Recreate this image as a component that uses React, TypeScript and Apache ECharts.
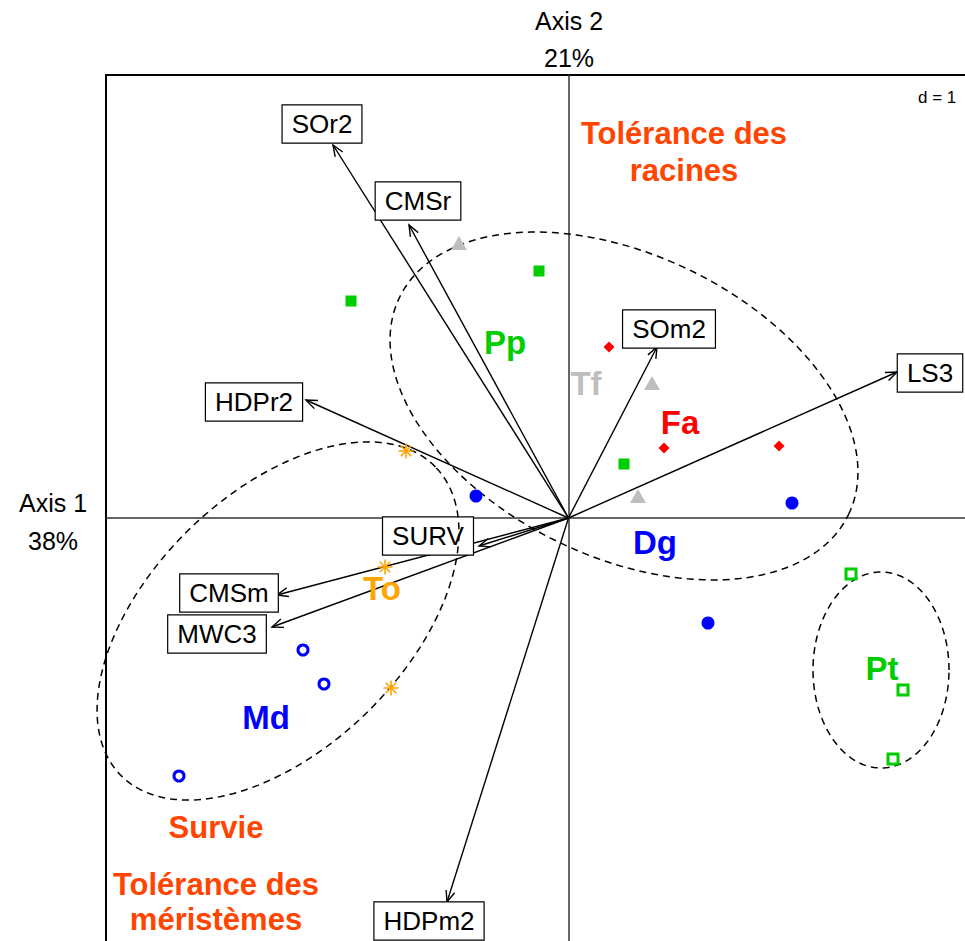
import React, { useEffect, useRef } from "react";
import * as echarts from "echarts";

// ---- data (axis units: principal-component scores) ----
const ppPoints = [[-2.175, 2.17], [-0.295, 2.47], [0.555, 0.54]];
const tfPoints = [[-1.095, 2.75], [0.835, 1.35], [0.695, 0.22]];
const faPoints = [[0.405, 1.71], [0.955, 0.7], [2.105, 0.72]];
const dgPoints = [[-0.925, 0.22], [2.235, 0.15], [1.395, -1.05]];
const toPoints = [[-1.625, 0.67], [-1.835, -0.49], [-1.775, -1.7]];
const mdPoints = [[-2.655, -1.32], [-2.445, -1.66], [-3.895, -2.58]];
const ptPoints = [[2.825, -0.56], [3.345, -1.72], [3.245, -2.41]];

const classNames = ["Pp", "Tf", "Fa", "Dg", "To", "Md", "Pt"];
const classLabelX = [-0.635, 0.175, 1.115, 0.865, -1.865, -3.025, 3.135];
const classLabelY = [1.76, 1.35, 0.96, -0.24, -0.7, -1.99, -1.5];
const classColors = ["#00cd00", "#bebebe", "#ff0000", "#0000ff", "#ffa500", "#0000ff", "#00cd00"];

const varNames = ["SOr2", "CMSr", "SOm2", "LS3", "HDPr2", "SURV", "CMSm", "MWC3", "HDPm2"];
const varTipX = [-2.355, -1.595, 0.885, 3.285, -2.625, -0.895, -2.915, -2.965, -1.215];
const varTipY = [3.73, 2.93, 1.71, 1.46, 1.18, -0.28, -0.77, -1.09, -3.84];
const varLabelX = [-2.465, -1.505, 1.005, 3.615, -3.145, -1.405, -3.395, -3.515, -1.395];
const varLabelY = [3.94, 3.17, 1.89, 1.45, 1.16, -0.18, -0.75, -1.16, -4.03];

// ellipses: centre x, centre y, semi-axis 1, semi-axis 2, rotation (deg)
const ellipseCX = [0.555, -2.905, 3.125];
const ellipseCY = [1.12, -1.03, -1.52];
const ellipseA = [2.494, 2.203, 0.68];
const ellipseB = [1.51, 1.276, 0.98];
const ellipseAngle = [-25.8, 44.4, 0];

const axisXMin = -4.625;
const axisXMax = 5.375;
const axisYMin = -5.57;
const axisYMax = 4.43;

const FONT = "'Liberation Sans', Arial, sans-serif";

export default function App() {
  const ref = useRef<HTMLDivElement>(null);

  useEffect(() => {
    if (!ref.current) return;
    const chart = echarts.init(ref.current, undefined, { renderer: "svg" });

    const arrowData = varTipX.map((x, i) => [x, varTipY[i]]);
    const varLabelData = varNames.map((n, i) => ({ name: n, value: [varLabelX[i], varLabelY[i]] }));
    const ellipseData = ellipseCX.map((cx, i) => [cx, ellipseCY[i], ellipseA[i], ellipseB[i], ellipseAngle[i]]);
    const classLabelData = classNames.map((n, i) => ({
      name: n,
      value: [classLabelX[i], classLabelY[i]],
      label: { color: classColors[i] },
    }));

    const pointSeries = (name: string, data: number[][], symbol: string, size: any, itemStyle: any) => ({
      type: "scatter",
      name,
      z: 6,
      data,
      symbol,
      symbolSize: size,
      itemStyle: { opacity: 1, ...itemStyle },
      emphasis: { disabled: true },
    });

    const option: any = {
      animation: false,
      grid: {
        left: 106,
        top: 75,
        width: 1000,
        height: 1000,
        show: true,
        borderColor: "#000",
        borderWidth: 2,
        backgroundColor: "#fff",
      },
      xAxis: {
        type: "value",
        min: axisXMin,
        max: axisXMax,
        axisLine: { show: true, onZero: true, lineStyle: { color: "#333", width: 1.5 } },
        axisTick: { show: false },
        axisLabel: { show: false },
        splitLine: { show: false },
      },
      yAxis: {
        type: "value",
        min: axisYMin,
        max: axisYMax,
        axisLine: { show: true, onZero: true, lineStyle: { color: "#333", width: 1.5 } },
        axisTick: { show: false },
        axisLabel: { show: false },
        splitLine: { show: false },
      },
      series: [
        {
          type: "custom",
          name: "arrows",
          z: 3,
          data: arrowData,
          encode: { x: 0, y: 1 },
          renderItem: (params: any, api: any) => {
            const p0 = api.coord([0, 0]);
            const p1 = api.coord([api.value(0), api.value(1)]);
            const ang = Math.atan2(p1[1] - p0[1], p1[0] - p0[0]);
            const L = 12;
            const s = 0.38;
            const left = [p1[0] - L * Math.cos(ang - s), p1[1] - L * Math.sin(ang - s)];
            const right = [p1[0] - L * Math.cos(ang + s), p1[1] - L * Math.sin(ang + s)];
            return {
              type: "group",
              children: [
                {
                  type: "line",
                  shape: { x1: p0[0], y1: p0[1], x2: p1[0], y2: p1[1] },
                  style: { stroke: "#000", lineWidth: 1.4 },
                },
                {
                  type: "polyline",
                  shape: { points: [left, p1, right] },
                  style: { stroke: "#000", lineWidth: 1.4, fill: null },
                },
              ],
            };
          },
        },
        {
          type: "scatter",
          name: "variables",
          z: 4,
          symbolSize: 1,
          itemStyle: { color: "rgba(0,0,0,0)" },
          emphasis: { disabled: true },
          data: varLabelData,
          label: {
            show: true,
            position: "inside",
            formatter: "{b}",
            fontFamily: FONT,
            fontSize: 26,
            color: "#000",
            opacity: 1,
            backgroundColor: "#fff",
            borderColor: "#000",
            borderWidth: 1.2,
            padding: [6, 9, 5, 9],
          },
        },
        {
          type: "custom",
          name: "ellipses",
          z: 5,
          data: ellipseData,
          dimensions: ["cx", "cy", "a", "b", "ang"],
          encode: { x: 0, y: 1 },
          renderItem: (params: any, api: any) => {
            const cx = api.value(0);
            const cy = api.value(1);
            const a = api.value(2);
            const b = api.value(3);
            const phi = (api.value(4) * Math.PI) / 180;
            const pts: number[][] = [];
            for (let k = 0; k <= 180; k++) {
              const t = (k / 180) * Math.PI * 2;
              const x = cx + a * Math.cos(phi) * Math.cos(t) - b * Math.sin(phi) * Math.sin(t);
              const y = cy + a * Math.sin(phi) * Math.cos(t) + b * Math.cos(phi) * Math.sin(t);
              pts.push(api.coord([x, y]));
            }
            return {
              type: "polyline",
              shape: { points: pts },
              style: { stroke: "#000", lineWidth: 1.5, fill: null, lineDash: [7, 5] },
            };
          },
        },
        pointSeries("Pp", ppPoints, "rect", 11, { color: "#00cd00" }),
        pointSeries("Tf", tfPoints, "triangle", [16, 14], { color: "#bebebe" }),
        pointSeries("Fa", faPoints, "diamond", 11, { color: "#ff0000" }),
        pointSeries("Dg", dgPoints, "circle", 13, { color: "#0000ff" }),
        pointSeries(
          "To",
          toPoints,
          "path://M50,0 L50,100 M0,50 L100,50 M15,15 L85,85 M15,85 L85,15",
          15,
          { color: "rgba(0,0,0,0)", borderColor: "#ffa500", borderWidth: 1.6 }
        ),
        pointSeries("Md", mdPoints, "circle", 10, { color: "rgba(255,255,255,0)", borderColor: "#0000ff", borderWidth: 3 }),
        pointSeries("Pt", ptPoints, "rect", 10, { color: "rgba(255,255,255,0)", borderColor: "#00cd00", borderWidth: 3 }),
        {
          type: "scatter",
          name: "classes",
          z: 7,
          symbolSize: 1,
          itemStyle: { color: "rgba(0,0,0,0)" },
          emphasis: { disabled: true },
          data: classLabelData,
          label: {
            show: true,
            position: "inside",
            formatter: "{b}",
            fontFamily: FONT,
            fontSize: 33,
            fontWeight: "bold",
            opacity: 1,
          },
        },
      ],
      graphic: [
        { type: "text", x: 569, y: 21, style: { text: "Axis 2", font: `25px ${FONT}`, fill: "#000", align: "center", verticalAlign: "middle" } },
        { type: "text", x: 569, y: 58, style: { text: "21%", font: `25px ${FONT}`, fill: "#000", align: "center", verticalAlign: "middle" } },
        { type: "text", x: 53, y: 503, style: { text: "Axis 1", font: `25px ${FONT}`, fill: "#000", align: "center", verticalAlign: "middle" } },
        { type: "text", x: 53, y: 541, style: { text: "38%", font: `25px ${FONT}`, fill: "#000", align: "center", verticalAlign: "middle" } },
        { type: "text", x: 918, y: 97, style: { text: "d = 1", font: `17px ${FONT}`, fill: "#000", align: "left", verticalAlign: "middle" } },
        { type: "text", x: 684, y: 133, style: { text: "Tolérance des", font: `bold 31px ${FONT}`, fill: "#ff4500", align: "center", verticalAlign: "middle" } },
        { type: "text", x: 684, y: 170, style: { text: "racines", font: `bold 31px ${FONT}`, fill: "#ff4500", align: "center", verticalAlign: "middle" } },
        { type: "text", x: 216, y: 827, style: { text: "Survie", font: `bold 31px ${FONT}`, fill: "#ff4500", align: "center", verticalAlign: "middle" } },
        { type: "text", x: 216, y: 884, style: { text: "Tolérance des", font: `bold 31px ${FONT}`, fill: "#ff4500", align: "center", verticalAlign: "middle" } },
        { type: "text", x: 216, y: 919, style: { text: "méristèmes", font: `bold 31px ${FONT}`, fill: "#ff4500", align: "center", verticalAlign: "middle" } },
      ],
    };

    chart.setOption(option);
    return () => chart.dispose();
  }, []);

  return (
    <div style={{ position: "fixed", left: 0, top: 0, width: 965, height: 941, overflow: "hidden", background: "#fff" }}>
      <div ref={ref} style={{ width: 1120, height: 1090 }} />
    </div>
  );
}
